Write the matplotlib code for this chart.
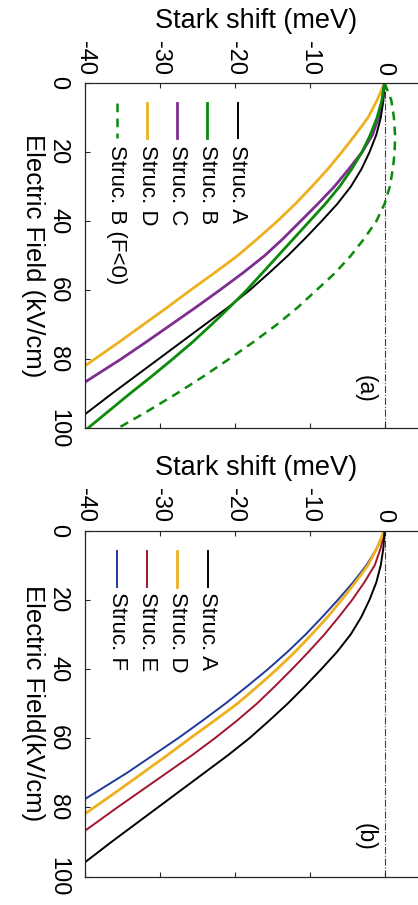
import numpy as np
import matplotlib
matplotlib.use('Agg')
import matplotlib.pyplot as plt
from matplotlib.lines import Line2D

plt.rcParams['font.family'] = ['Liberation Sans', 'DejaVu Sans']
plt.rcParams['axes.unicode_minus'] = False

# electric field (kV/cm) and Stark shift (meV) of each structure
field = [0, 5, 10, 15, 20, 25, 30, 35, 40, 45, 50, 55, 60, 65, 70, 75, 80, 85, 90, 95, 100]
shift_A = [0, -0.15, -0.5, -1.1, -2.0, -3.1, -4.5, -6.3, -8.4, -10.6, -12.9, -15.4, -18.0,
           -20.9, -24.0, -27.1, -30.2, -33.3, -36.4, -39.4, -42.4]
shift_B = [0, -0.35, -1.0, -1.9, -3.0, -4.4, -6.0, -7.9, -10.0, -12.1, -14.2, -16.3, -18.4,
           -20.7, -23.1, -25.6, -28.3, -31.1, -34.0, -36.8, -39.6]
shift_C = [0, -0.3, -0.8, -1.6, -3.0, -4.8, -6.7, -8.9, -11.2, -13.5, -16.0, -18.9, -22.0,
           -25.2, -28.5, -31.8, -35.2, -38.8, -42.4, -46.0, -49.6]
shift_D = [0, -1.0, -2.2, -3.9, -5.7, -7.6, -9.7, -11.9, -14.3, -16.9, -19.6, -22.7, -25.9,
           -29.0, -32.2, -35.4, -38.7, -42.0, -45.4, -48.8, -52.2]
shift_B_neg = [0, 0.9, 1.25, 1.4, 1.35, 1.1, 0.7, 0.0, -1.1, -2.7, -4.5, -6.6, -9.1,
               -11.6, -14.4, -17.5, -20.8, -24.2, -27.8, -31.6, -35.6]
shift_E = [0, -0.5, -1.3, -2.7, -4.3, -6.1, -8.0, -10.1, -12.3, -14.6, -17.0, -19.7, -22.6,
           -25.7, -29.0, -32.3, -35.6, -38.8, -42.0, -45.4, -48.8]
shift_F = [0, -1.0, -2.4, -4.2, -6.2, -8.3, -10.5, -12.9, -15.5, -18.3, -21.2, -24.3, -27.5,
           -30.9, -34.3, -38.0, -41.7, -45.5, -49.3, -53.1, -57.0]

c_A = 'k'
c_B = '#0b8a0b'
c_C = '#7e2f8e'
c_D = '#edb120'
c_E = '#a2142f'
c_F = '#1f3a9a'

W, H = 418, 905


def plt_share(ax, xlab, ylab):
    ax.set_xlim((-40, 4.46))
    ax.set_ylim((100, 0))
    ax.set_xticks(np.arange(-40, 0.1, 10))
    ax.set_yticks(np.arange(0, 100.1, 20))
    ax.xaxis.tick_top()
    ax.tick_params(axis='both', direction='in', length=3.6, width=0.8, colors='#262626',
                   labelcolor='k', labelsize=17)
    ax.tick_params(axis='x', top=True, bottom=True, pad=6)
    ax.tick_params(axis='y', left=True, right=False, pad=11)
    for t in ax.get_xticklabels():
        t.set_rotation(-90)
    for t in ax.get_yticklabels():
        t.set_rotation(-90)
        t.set_va('center')
    for spi in ['bottom', 'left', 'top']:
        ax.spines[spi].set_linewidth(0.9)
        ax.spines[spi].set_color('#262626')
    ax.spines['right'].set_color('none')
    ax.spines['right'].set_linewidth(0)
    ax.spines['right'].set_visible(False)
    ax.patch.set_edgecolor('none')

    ax.xaxis.set_label_position('top')
    ax.set_xlabel(xlab, fontsize=19.5, va='center')
    ax.xaxis.set_label_coords(0.513, 1.18)
    ax.set_ylabel(ylab, fontsize=18.5, rotation=-90, va='center', ha='center')
    ax.yaxis.set_label_coords(-0.155, 0.5)

    ax.axvline(x=0.0, ls='-.', c='#404040', lw=0.8, zorder=1)
    return ax


def rot_legend(ax, entries, x0, dx, y_top, y_bot, y_text):
    # legend drawn by hand so that handles and labels follow the rotated layout
    for i, (label, color, lw, ls) in enumerate(entries):
        x = x0 - i * dx
        ln = Line2D([x, x], [y_top, y_bot], transform=ax.transAxes, color=color, lw=lw)
        if ls == 'dash':
            ln.set_dashes((3.5, 2.5))
        ax.add_line(ln)
        ax.text(x, y_text, label, transform=ax.transAxes, rotation=-90, rotation_mode='anchor',
                ha='left', va='center', fontsize=16)


fig = plt.figure(figsize=(W / 100, H / 100), dpi=100)
ax_w = W - 84.5

# panel (a)
ax1 = fig.add_axes([84.5 / W, 476.5 / H, ax_w / W, 345.5 / H])
ax1 = plt_share(ax1, 'Stark shift (meV)', 'Electric Field (kV/cm)')
ax1.plot(shift_B_neg, field, c=c_B, lw=1.8, dashes=(3.5, 2.5))
ax1.plot(shift_D, field, c=c_D, lw=2.0)
ax1.plot(shift_C, field, c=c_C, lw=2.0)
ax1.plot(shift_A, field, c=c_A, lw=1.4)
ax1.plot(shift_B, field, c=c_B, lw=2.0)
rot_legend(ax1, [('Struc. A', c_A, 1.4, '-'), ('Struc. B', c_B, 2.0, '-'),
                 ('Struc. C', c_C, 2.0, '-'), ('Struc. D', c_D, 2.0, '-'),
                 ('Struc. B (F<0)', c_B, 1.8, 'dash')],
           0.459, 0.0905, 0.942, 0.841, 0.821)
ax1.text(0.841, 0.114, '(a)', transform=ax1.transAxes, rotation=-90, ha='center', va='center',
         fontsize=16.5)

# panel (b)
ax2 = fig.add_axes([84.5 / W, 28.5 / H, ax_w / W, 346 / H])
ax2 = plt_share(ax2, 'Stark shift (meV)', 'Electric Field(kV/cm)')
ax2.plot(shift_F, field, c=c_F, lw=1.4)
ax2.plot(shift_E, field, c=c_E, lw=1.4)
ax2.plot(shift_D, field, c=c_D, lw=2.0)
ax2.plot(shift_A, field, c=c_A, lw=1.4)
rot_legend(ax2, [('Struc. A', c_A, 1.4, '-'), ('Struc. D', c_D, 2.0, '-'),
                 ('Struc. E', c_E, 1.4, '-'), ('Struc. F', c_F, 1.4, '-')],
           0.369, 0.0905, 0.941, 0.838, 0.823)
ax2.text(0.841, 0.115, '(b)', transform=ax2.transAxes, rotation=-90, ha='center', va='center',
         fontsize=16.5)

plt.savefig('out.png', dpi=100)
